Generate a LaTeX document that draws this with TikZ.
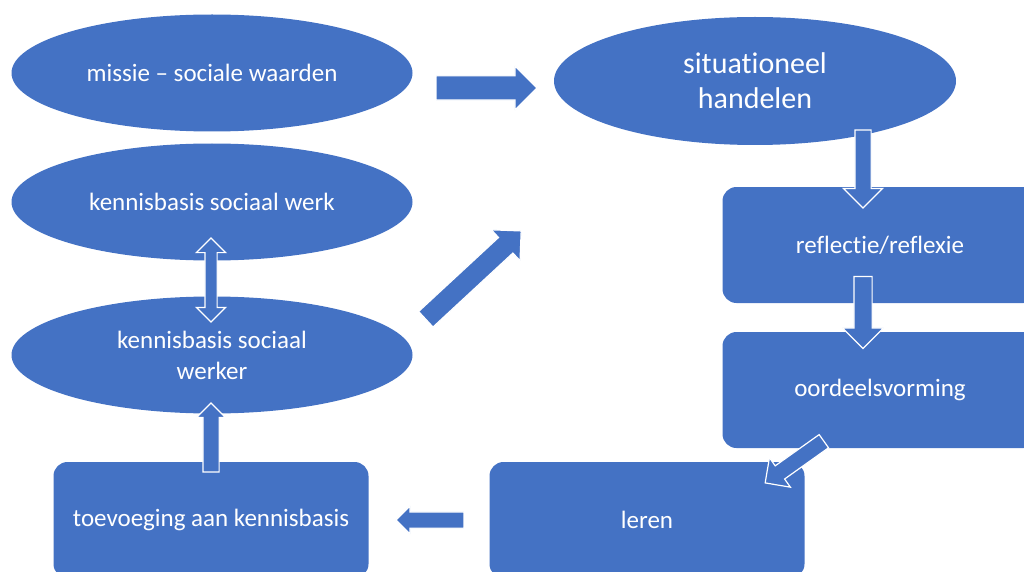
\documentclass[tikz,border=0pt]{standalone}
\usepackage{fontspec}
\setmainfont{Carlito}[Ligatures=NoCommon]
\usetikzlibrary{shapes.geometric,shapes.arrows}

\definecolor{officeblue}{HTML}{4472C4}

\tikzset{
  bubble/.style={ellipse, fill=officeblue, text=white, inner sep=0pt,
    minimum width=401pt, minimum height=117pt, align=center,
    font=\fontsize{25}{31}\selectfont},
  stepbox/.style={rectangle, rounded corners=14pt, fill=officeblue, text=white,
    minimum width=315pt, minimum height=116pt, align=center,
    font=\fontsize{25}{31}\selectfont},
  blockarrow/.style={single arrow, fill=officeblue, draw=white, line width=1.2pt,
    inner xsep=0pt},
  twowayarrow/.style={double arrow, fill=officeblue, draw=white, line width=1.2pt,
    inner xsep=0pt},
}

\begin{document}
\begin{tikzpicture}[x=1pt, y=-1pt]

        \useasboundingbox (0, 0) rectangle (1024, 572);
        \clip (0, 0) rectangle (1024, 572);

        % Nodes
        \node (missie) [bubble] at (212, 73) {missie – sociale waarden};
        \node (werk) [bubble] at (212, 202) {kennisbasis sociaal werk};
        \node (werker) [bubble] at (212, 355) {kennisbasis sociaal\\werker};
        \node (handelen) [bubble, minimum width=402pt, minimum height=128pt,
          font=\fontsize{30}{35}\selectfont] at (755, 81) {situationeel\\handelen};

        \node (reflectie) [stepbox] at (880, 245) {reflectie/reflexie};
        \node (oordeel) [stepbox] at (880, 390) {oordeelsvorming};
        \node (leren) [stepbox] at (647, 520) {leren};
        \node (toevoeging) [stepbox] at (211, 520) {toevoeging aan kennisbasis};

        % Arrows (inner ysep = half the shaft width)
        \node (a_missie) [blockarrow, minimum height=101pt, inner ysep=11.5pt,
          single arrow head extend=10pt] at (480.5, 88) {};
        \node (a_werk) [twowayarrow, minimum height=84pt, inner ysep=5.5pt,
          double arrow head extend=8.5pt, rotate=90] at (211, 280) {};
        \node (a_werker) [blockarrow, minimum height=130pt, inner ysep=10pt,
          single arrow head extend=10.5pt, rotate=42.8] at (469.6, 278.7) {};
        \node (a_handelen) [blockarrow, minimum height=78pt, inner ysep=7.5pt,
          single arrow head extend=11.5pt, rotate=-90] at (863, 165) {};
        \node (a_reflectie) [blockarrow, minimum height=72pt, inner ysep=8.5pt,
          single arrow head extend=11.5pt, rotate=-90] at (863, 308) {};
        \node (a_oordeel) [blockarrow, minimum height=72pt, inner ysep=7.5pt,
          single arrow head extend=10pt, rotate=215.4] at (797.8, 459.7) {};
        \node (a_leren) [blockarrow, minimum height=68pt, inner ysep=7.5pt,
          single arrow head extend=6pt, rotate=180] at (434, 520) {};
        \node (a_toevoeging) [blockarrow, minimum height=69pt, inner ysep=7.5pt,
          single arrow head extend=6.5pt, rotate=90] at (211, 441.5) {};

\end{tikzpicture}
\end{document}
